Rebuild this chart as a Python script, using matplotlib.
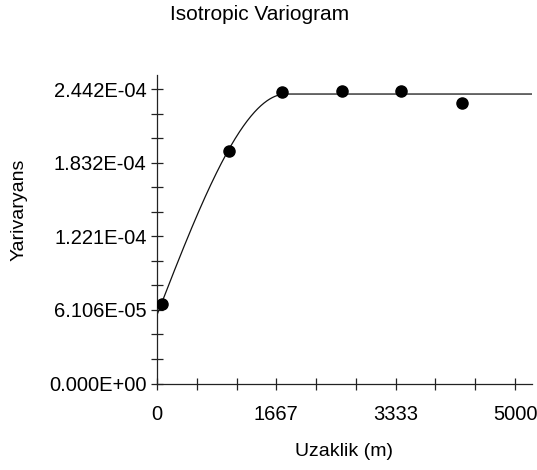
import numpy as np
import matplotlib
matplotlib.use("Agg")
import matplotlib.pyplot as plt

plt.rcParams['font.family'] = ['Liberation Sans', 'DejaVu Sans']

# Experimental variogram (lag distance in m, semivariance)
lag_distance = [74, 1006, 1750, 2580, 3404, 4264]
semivariance = [6.57e-5, 1.932e-4, 2.417e-4, 2.430e-4, 2.430e-4, 2.331e-4]

# Spherical model parameters
nugget = 5.69e-5
sill = 2.403e-4
model_range = 1800.0

# Axis ticks
x_major = [0, 1667, 3333, 5000]
x_major_labels = ["0", "1667", "3333", "5000"]
y_major = [0.0, 6.106e-5, 1.221e-4, 1.832e-4, 2.442e-4]
y_major_labels = ["0.000E+00", "6.106E-05", "1.221E-04", "1.832E-04", "2.442E-04"]

x_max = 5233
y_max = 2.561e-4

W, H = 537, 470
fig = plt.figure(figsize=(W / 100, H / 100), dpi=100)
ax = fig.add_axes([157 / W, 1 - 383.5 / H, (531.7 - 157) / W, (383.5 - 75) / H])

# spherical model curve
h = np.linspace(0, x_max, 600)
r = np.clip(h / model_range, 0, 1)
gamma = nugget + (sill - nugget) * (1.5 * r - 0.5 * r ** 3)
ax.plot(h, gamma, color='#111111', lw=0.9, zorder=2)

ax.plot(lag_distance, semivariance, 'o', color='black', markersize=8, zorder=3)

ax.set_xlim(0, x_max)
ax.set_ylim(0, y_max)

# major + minor ticks (all drawn as crossing ticks)
x_ticks = np.linspace(0, 5000, 10)
x_labels = []
for t in x_ticks:
    lbl = ""
    for v, s in zip(x_major, x_major_labels):
        if abs(t - v) < 1:
            lbl = s
    x_labels.append(lbl)
ax.set_xticks(x_ticks)
ax.set_xticklabels(x_labels)

y_ticks = []
y_labels = []
for i in range(len(y_major) - 1):
    a, b = y_major[i], y_major[i + 1]
    for k in range(3):
        y_ticks.append(a + (b - a) * k / 3)
        y_labels.append(y_major_labels[i] if k == 0 else "")
y_ticks.append(y_major[-1])
y_labels.append(y_major_labels[-1])
ax.set_yticks(y_ticks)
ax.set_yticklabels(y_labels)

ax.tick_params(axis='both', direction='inout', length=8, width=0.9,
               color='#222222', labelsize=14.5, labelcolor='black')
ax.tick_params(axis='x', pad=11.5)
ax.tick_params(axis='y', pad=3.5)

for side in ('top', 'right'):
    ax.spines[side].set_visible(False)
for side in ('left', 'bottom'):
    ax.spines[side].set_linewidth(0.9)
    ax.spines[side].set_color('#222222')

fig.text(259.5 / W, 1 - 14 / H, "Isotropic Variogram", ha='center', va='center',
         fontsize=15)
fig.text(344 / W, 1 - 451 / H, "Uzaklik (m)", ha='center', va='center', fontsize=14)
fig.text(19 / W, 1 - 210 / H, "Yarivaryans", ha='center', va='center',
         rotation=90, fontsize=14)

fig.savefig("out.png", dpi=100)
